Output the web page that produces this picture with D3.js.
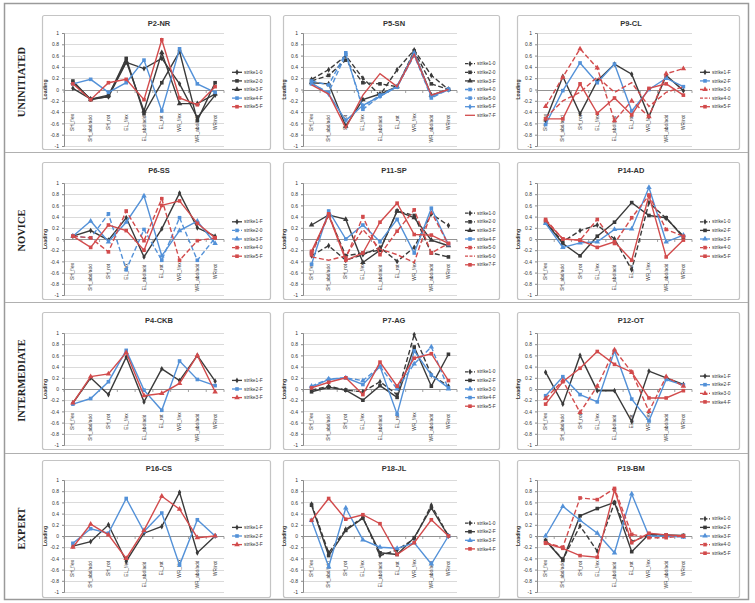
<!DOCTYPE html>
<html>
<head>
<meta charset="utf-8">
<script src="https://cdn.jsdelivr.net/npm/d3@7"></script>
<style>
body { margin:0; background:#fff; }
svg text { font-family: "Liberation Sans", Arial, sans-serif; }
</style>
</head>
<body>
<div id="chart"></div>
<script>
// categories and tick labels
var categories = ["SH_f/ex","SH_abd/add","SH_rot","EL_f/ex","EL_abd/add","EL_rot","WR_f/ex","WR_abd/add","WR/rot"]
var yTicks = [1,0.8,0.6,0.4,0.2,0,-0.2,-0.4,-0.6,-0.8,-1]
var rowLabels = ["UNINITIATED","NOVICE","INTERMEDIATE","EXPERT"]
var titles = ["P2-NR","P5-SN","P9-CL","P6-SS","P11-SP","P14-AD","P4-CKB","P7-AG","P12-OT","P16-CS","P18-JL","P19-BM"]

// series per panel
var p2nrNames = ["strike1-0","strike2-0","strike3-F","strike4-F","strike5-F"]
var p2nrValues = [
  [0.02,-0.17,-0.13,0.48,0.37,0.55,0.1,-0.5,-0.1],
  [0.15,-0.18,-0.12,0.55,-0.43,0.12,0.67,-0.55,0.12],
  [0.12,-0.17,-0.1,0.5,-0.38,0.65,-0.25,-0.25,-0.08],
  [0.1,0.18,-0.05,0.12,0.52,-0.38,0.72,0.1,-0.05],
  [0.1,-0.18,0.12,0.18,-0.18,0.88,-0.15,-0.27,0.05]]
var p5snNames = ["strike1-0","strike2-0","strike3-F","strike4-0","strike5-0","strike6-F","strike7-F"]
var p5snValues = [
  [0.18,0.35,0.6,0.2,-0.1,0.35,0.7,0.25,0.0],
  [0.15,0.25,0.52,0.12,0.1,0.05,0.68,0.1,0.0],
  [0.12,0.1,-0.65,-0.18,-0.08,0.05,0.65,-0.1,0.0],
  [0.15,0.08,0.65,-0.35,-0.12,0.05,0.62,-0.15,0.0],
  [0.1,-0.05,0.62,-0.3,-0.1,0.05,0.6,-0.12,0.0],
  [0.12,-0.08,-0.55,-0.28,-0.12,0.05,0.65,-0.12,0.0],
  [0.08,-0.08,-0.68,-0.1,0.28,0.05,0.62,-0.1,0.0]]
var p9clNames = ["strike1-F","strike2-F","strike3-0","strike4-0","strike5-F"]
var p9clValues = [
  [-0.55,0.23,-0.43,0.15,0.45,0.27,-0.48,0.25,-0.02],
  [-0.62,-0.02,0.47,0.12,0.45,-0.38,0.0,0.2,0.05],
  [-0.3,0.22,0.72,0.38,-0.55,-0.2,-0.48,0.28,0.37],
  [-0.5,-0.2,-0.05,0.22,-0.05,0.12,-0.3,-0.05,0.05],
  [-0.52,-0.52,0.1,-0.42,-0.15,-0.45,0.02,0.1,-0.1]]
var p6ssNames = ["strike1-F","strike2-0","strike3-F","strike4-0","strike5-F"]
var p6ssValues = [
  [0.05,0.15,-0.02,0.38,-0.32,0.18,0.82,0.2,0.05],
  [0.05,0.02,0.45,-0.55,0.17,-0.38,0.38,-0.38,0.02],
  [0.05,0.32,-0.05,0.3,0.77,-0.3,0.15,0.32,-0.08],
  [0.05,0.02,-0.23,0.5,-0.03,0.72,-0.38,-0.03,0.02],
  [0.05,-0.15,0.25,0.15,-0.2,0.6,0.68,0.28,0.02]]
var p11spNames = ["strike1-0","strike2-0","strike3-F","strike4-F","strike5-0","strike6-0","strike7-F"]
var p11spValues = [
  [-0.3,-0.12,-0.38,-0.28,-0.15,-0.4,-0.15,0.45,0.24],
  [-0.25,0.42,-0.3,-0.25,-0.2,0.5,0.42,-0.25,-0.32],
  [0.25,0.43,0.35,-0.42,-0.2,0.5,0.38,-0.02,-0.12],
  [-0.45,0.5,0.0,0.25,-0.05,0.35,-0.25,0.55,-0.1],
  [-0.28,0.45,-0.35,0.4,-0.28,0.14,0.52,-0.25,-0.08],
  [-0.32,-0.38,-0.3,0.17,-0.18,-0.28,-0.42,0.48,-0.1],
  [-0.22,0.43,-0.38,-0.25,0.3,0.64,0.08,0.07,-0.08]]
var p14adNames = ["strike1-0","strike2-F","strike3-F","strike4-0","strike5-F"]
var p14adValues = [
  [0.3,-0.05,0.15,0.25,0.0,-0.55,0.65,0.37,0.05],
  [0.3,-0.08,-0.3,0.05,0.3,0.65,0.42,0.38,0.03],
  [0.28,-0.15,-0.07,-0.05,0.17,0.18,0.92,-0.05,0.07],
  [0.35,0.0,-0.02,0.35,-0.08,0.38,0.78,0.17,0.05],
  [0.33,0.0,-0.02,-0.15,-0.05,-0.38,0.78,-0.32,-0.02]]
var p4ckbNames = ["strike1-F","strike2-F","strike3-F"]
var p4ckbValues = [
  [-0.25,0.2,-0.1,0.57,-0.23,0.36,0.15,0.6,0.14],
  [-0.27,-0.17,0.13,0.69,-0.02,-0.38,0.5,0.17,0.06],
  [-0.25,0.22,0.27,0.65,-0.12,-0.08,0.1,0.6,-0.05]]
var p7agNames = ["strike1-0","strike2-F","strike3-0","strike4-F","strike5-F"]
var p7agValues = [
  [-0.02,0.05,-0.02,-0.05,0.13,-0.1,0.97,0.25,0.05],
  [-0.05,0.03,-0.02,-0.2,0.06,-0.15,0.75,0.05,0.62],
  [0.05,0.18,0.2,0.15,0.4,0.0,0.45,0.75,0.0],
  [0.03,0.17,0.2,0.08,0.4,-0.45,0.68,0.25,0.02],
  [0.02,0.12,0.2,-0.1,0.48,0.05,0.55,0.63,0.15]]
var p12otNames = ["strike1-F","strike2-F","strike3-0","strike4-F"]
var p12otValues = [
  [0.3,-0.27,0.6,-0.03,-0.03,-0.58,0.32,0.2,0.08],
  [-0.12,0.22,-0.1,-0.23,0.68,-0.18,-0.57,0.17,0.07],
  [-0.17,0.15,-0.42,0.05,0.7,0.3,-0.4,0.22,0.05],
  [-0.27,0.13,0.37,0.67,0.44,0.3,-0.16,-0.16,-0.03]]
var p16csNames = ["strike1-F","strike2-F","strike3-F"]
var p16csValues = [
  [-0.18,-0.1,0.2,-0.45,0.05,0.17,0.78,-0.3,0.0],
  [-0.13,0.13,0.05,0.67,0.08,0.41,-0.52,0.29,0.0],
  [-0.2,0.21,0.02,-0.4,0.1,0.71,0.48,-0.03,0.0]]
var p18jlNames = ["strike1-0","strike2-F","strike3-F","strike4-F"]
var p18jlValues = [
  [0.57,-0.3,0.12,0.33,-0.35,-0.25,-0.05,0.55,0.0],
  [0.55,-0.35,0.1,0.32,-0.3,-0.33,-0.03,0.5,0.0],
  [0.28,-0.55,0.5,-0.07,-0.2,-0.22,-0.12,-0.5,0.0],
  [0.28,0.67,0.3,0.38,0.22,-0.33,-0.12,0.29,0.0]]
var p19bmNames = ["strike1-0","strike2-F","strike3-F","strike4-0","strike5-F"]
var p19bmValues = [
  [-0.08,-0.42,0.18,-0.27,0.6,-0.1,0.02,0.0,0.0],
  [-0.08,-0.43,0.36,0.49,0.6,-0.28,0.03,0.02,0.01],
  [0.0,0.53,0.28,0.05,-0.3,0.75,0.0,0.0,-0.02],
  [-0.12,-0.2,0.68,0.65,0.85,0.03,-0.03,-0.03,0.0],
  [-0.13,-0.22,-0.35,-0.38,0.82,-0.12,0.05,0.02,0.0]]

// line styles: colour letter, "-" solid / "--" dashed, marker letter
var styles = [
  ["k-d","k-s","k-t","b-s","r-s"],
  ["k--d","k--s","k-t","b--s","b--s","b-d","r-n"],
  ["k-d","b-s","r--t","r--n","r-s"],
  ["k-d","b--s","b-t","r--s","r-s"],
  ["k--d","k--s","k-t","b-s","r--s","r--n","r-s"],
  ["k--d","k-s","b-t","r--s","r-s"],
  ["k-d","b-s","r-t"],
  ["k--d","k-s","b--t","b-s","r-s"],
  ["k-d","b-s","r--t","r-s"],
  ["k-d","b-s","r-t"],
  ["k--d","k-s","b-t","r-s"],
  ["k--d","k-s","b-t","r--s","r-s"]]

var names = [p2nrNames,p5snNames,p9clNames,p6ssNames,p11spNames,p14adNames,p4ckbNames,p7agNames,p12otNames,p16csNames,p18jlNames,p19bmNames]
var values = [p2nrValues,p5snValues,p9clValues,p6ssValues,p11spValues,p14adValues,p4ckbValues,p7agValues,p12otValues,p16csValues,p18jlValues,p19bmValues]

var colors = {k:"#3a3a3a", b:"#5391d8", r:"#d24b4c"}
var cols = [{px:[42,270], plot:[64,224]}, {px:[283,499], plot:[303,457]}, {px:[517,739], plot:[537,692]}]
var rows = [{py:[15,149], plot:[33,146]}, {py:[162,299], plot:[183,295]}, {py:[312,449], plot:[333,445]}, {py:[460,597], plot:[480,592]}]

var svg = d3.select("#chart").append("svg")
  .attr("width", 755)
  .attr("height", 603)

// outer frame and row separators
svg.append("rect")
  .attr("x", 4.5).attr("y", 3.5).attr("width", 744).attr("height", 596)
  .attr("fill", "none").attr("stroke", "#9a9a9a").attr("stroke-width", 1.5)
;[152, 302, 453].forEach(function(yy){
  svg.append("line").attr("x1", 5).attr("x2", 748).attr("y1", yy+0.5).attr("y2", yy+0.5)
    .attr("stroke", "#b0b0b0").attr("stroke-width", 1)
})

rowLabels.forEach(function(lab, r){
  var cy = (rows[r].py[0] + rows[r].py[1]) / 2
  svg.append("text")
    .attr("transform", "translate(25," + cy + ") rotate(-90)")
    .attr("text-anchor", "middle")
    .style("font-family", "'Liberation Serif', 'Times New Roman', serif")
    .style("font-weight", "bold")
    .style("font-size", "10.5px")
    .attr("fill", "#222")
    .text(lab)
})

function symbolFor(m){
  if(m=="s") return d3.symbol().type(d3.symbolSquare).size(13)()
  if(m=="t") return d3.symbol().type(d3.symbolTriangle).size(13)()
  if(m=="d") return d3.symbol().type(d3.symbolDiamond).size(10)()
  return null
}

function parseStyle(s){
  return {color: colors[s[0]], dashed: s.indexOf("--")>=0, marker: s[s.length-1]}
}

for(var p=0;p<12;p++){
  draw_panel(p, cols[p%3], rows[Math.floor(p/3)])
}

function draw_panel(p, col, row){
  var g = svg.append("g")
  g.append("rect")
    .attr("x", col.px[0]+0.5).attr("y", row.py[0]+0.5)
    .attr("width", col.px[1]-col.px[0]).attr("height", row.py[1]-row.py[0])
    .attr("rx", 2)
    .attr("fill", "#fff").attr("stroke", "#c4c4c4").attr("stroke-width", 1.2)

  var xscale = d3.scaleBand().domain(categories).range(col.plot)
  var yscale = d3.scaleLinear().domain([-1, 1]).range([row.plot[1], row.plot[0]])
  var cx = function(c){ return xscale(c) + xscale.bandwidth()/2 }

  g.append("text")
    .attr("x", (col.px[0]+col.px[1])/2 + 3)
    .attr("y", row.py[0] + 10.5)
    .attr("text-anchor", "middle")
    .style("font-size", "7.5px").style("font-weight", "bold")
    .attr("fill", "#333")
    .text(titles[p])

  // gridlines
  g.selectAll(".grid").data(yTicks).enter().append("line")
    .attr("x1", col.plot[0]).attr("x2", col.plot[1])
    .attr("y1", function(d){ return Math.round(yscale(d))+0.5 })
    .attr("y2", function(d){ return Math.round(yscale(d))+0.5 })
    .attr("stroke", "#d6d6d6").attr("stroke-width", 0.9)

  var yaxis = g.append("g")
    .attr("transform", "translate(" + col.plot[0] + ",0)")
    .call(d3.axisLeft(yscale).tickValues(yTicks).tickSize(2).tickPadding(3)
      .tickFormat(function(d){ return String(+d.toFixed(1)) }))
  yaxis.selectAll("path, line").attr("stroke", "#8c8c8c")
  yaxis.selectAll("text").style("font-size", "5px").attr("fill", "#333")
    .style("font-family", "'Liberation Sans', Arial, sans-serif")

  g.append("text")
    .attr("transform", "translate(" + (col.plot[0]-17) + "," + yscale(0) + ") rotate(-90)")
    .attr("text-anchor", "middle")
    .style("font-size", "5.2px").style("font-weight", "bold")
    .attr("fill", "#333")
    .text("Loading")

  // category axis at zero
  var y0 = Math.round(yscale(0)) + 0.5
  g.append("line")
    .attr("x1", col.plot[0]).attr("x2", col.plot[1]).attr("y1", y0).attr("y2", y0)
    .attr("stroke", "#8c8c8c").attr("stroke-width", 0.9)
  var bounds = categories.map(function(c){ return xscale(c) }).concat([col.plot[1]])
  g.selectAll(".xt").data(bounds).enter().append("line")
    .attr("x1", function(d){ return d }).attr("x2", function(d){ return d })
    .attr("y1", y0).attr("y2", y0+2.5)
    .attr("stroke", "#8c8c8c").attr("stroke-width", 0.8)
  g.selectAll(".xl").data(categories).enter().append("text")
    .attr("transform", function(d){
      var off = d.indexOf("abd")>=0 ? 38 : 32
      return "translate(" + (cx(d)+1.5) + "," + (y0+off) + ") rotate(-90)" })
    .attr("text-anchor", "middle")
    .style("font-size", "4.8px")
    .attr("fill", "#333")
    .text(function(d){ return d })

  var line = d3.line()
    .x(function(d, i){ return cx(categories[i]) })
    .y(function(d){ return yscale(d) })

  var sers = names[p].map(function(n, i){
    return {name: n, vals: values[p][i], st: parseStyle(styles[p][i])}
  })

  sers.forEach(function(s){
    g.append("path")
      .attr("d", line(s.vals))
      .attr("fill", "none")
      .attr("stroke", s.st.color)
      .attr("stroke-width", 1.4)
      .attr("stroke-dasharray", s.st.dashed ? "5,2.5" : null)
    var sym = symbolFor(s.st.marker)
    if(sym){
      g.selectAll(null).data(s.vals).enter().append("path")
        .attr("d", sym)
        .attr("transform", function(d, i){ return "translate(" + cx(categories[i]) + "," + yscale(d) + ")" })
        .attr("fill", s.st.color)
    }
  })

  // legend
  var step = 8.6
  var ly0 = yscale(0) - (sers.length-1)*step/2
  var lx = col.plot[1] + 8
  sers.forEach(function(s, i){
    var ly = ly0 + i*step
    g.append("line")
      .attr("x1", lx).attr("x2", lx+10).attr("y1", ly).attr("y2", ly)
      .attr("stroke", s.st.color).attr("stroke-width", 1.3)
      .attr("stroke-dasharray", s.st.dashed ? "3,1.5" : null)
    var sym = symbolFor(s.st.marker)
    if(sym){
      g.append("path").attr("d", sym)
        .attr("transform", "translate(" + (lx+5) + "," + ly + ")")
        .attr("fill", s.st.color)
    }
    g.append("text")
      .attr("x", lx+12).attr("y", ly)
      .attr("dy", "0.35em")
      .style("font-size", "4.8px")
      .attr("fill", "#333")
      .text(s.name)
  })
}
</script>
</body>
</html>
